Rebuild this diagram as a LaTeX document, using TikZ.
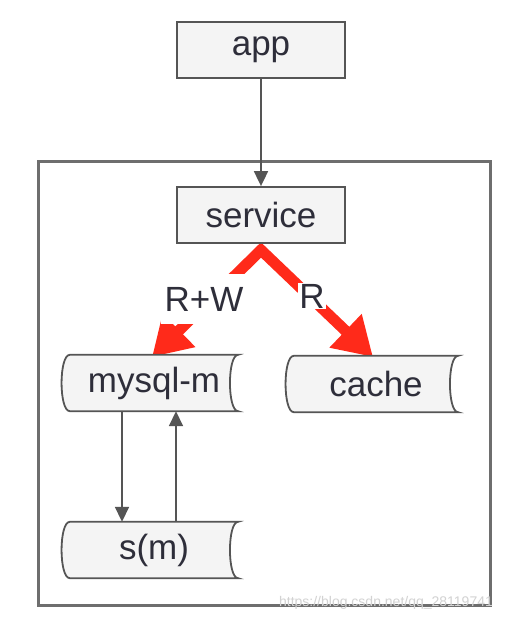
\documentclass[tikz,border=0pt]{standalone}
\usepackage{fontspec}
\setmainfont{Liberation Sans}
\usetikzlibrary{arrows.meta}
\definecolor{edge}{HTML}{555555}
\definecolor{boxfill}{HTML}{F4F4F4}
\definecolor{txt}{HTML}{2E2E3A}
\definecolor{redarr}{HTML}{FF2A1A}
\newcommand{\sdshape}[1]{%
  \draw[sdline] (#1.north east) -- (#1.north west)
    .. controls ([xshift=-11pt]#1.north west) and ([xshift=-11pt]#1.south west) .. (#1.south west)
    -- (#1.south east)
    .. controls ([xshift=-11pt]#1.south east) and ([xshift=-11pt]#1.north east) .. (#1.north east) -- cycle;}
\begin{document}
\begin{tikzpicture}[x=1pt,y=-1pt,
  every node/.style={font=\fontsize{35}{38}\selectfont, text=txt},
  rectbox/.style={draw=edge, line width=1.8pt, fill=boxfill, minimum width=168pt, minimum height=56pt, inner sep=0pt},
  sdbox/.style={minimum width=168pt, minimum height=56pt, inner sep=0pt},
  sdline/.style={draw=edge, line width=1.8pt, fill=boxfill},
  grayarrow/.style={draw=edge, line width=1.8pt, -{Triangle[width=14pt,length=15pt]}},
  redline/.style={draw=redarr, line width=11pt, line join=miter, {Triangle[width=44pt,length=38pt]}-{Triangle[width=44pt,length=38pt]}},
  lbl/.style={fill=white, inner sep=2pt}
  ]
\useasboundingbox[fill=white] (0,0) rectangle (513,622);
\draw[draw=edge!85, line width=3pt] (38,161) rectangle (490,605);
\coordinate (apex) at (261,250);
\coordinate (tipL) at (152,357);
\coordinate (tipR) at (373,357);
\draw[redline] (tipL) -- (apex) -- (tipR);
\node[rectbox] (app) at (261,50) {app};
\node[rectbox] (service) at (261,215) {service};
\node[sdbox] (mysql) at (154,383) {};
\node[sdbox, minimum width=164pt] (cache) at (376,384) {};
\node[sdbox] (sm) at (154,550) {};
\sdshape{mysql}
\sdshape{cache}
\sdshape{sm}
\node at (mysql) {mysql-m};
\node at (cache) {cache};
\node at (sm) {s(m)};
\node[lbl, inner xsep=4pt, inner ysep=13pt] (rw) at (204,299) {R+W};
\node[lbl, inner sep=1pt] (r) at (312,296) {R};
\draw[grayarrow] (app.south) -- (service.north);
\draw[grayarrow] ([xshift=-32pt]mysql.south) -- ([xshift=-32pt]sm.north);
\draw[grayarrow] ([xshift=22pt]sm.north) -- ([xshift=22pt]mysql.south);
\node[font=\fontsize{14}{16}\selectfont, text=gray!35] (wm) at (386,603) {https://blog.csdn.net/qq\_28119741};
\end{tikzpicture}
\end{document}
